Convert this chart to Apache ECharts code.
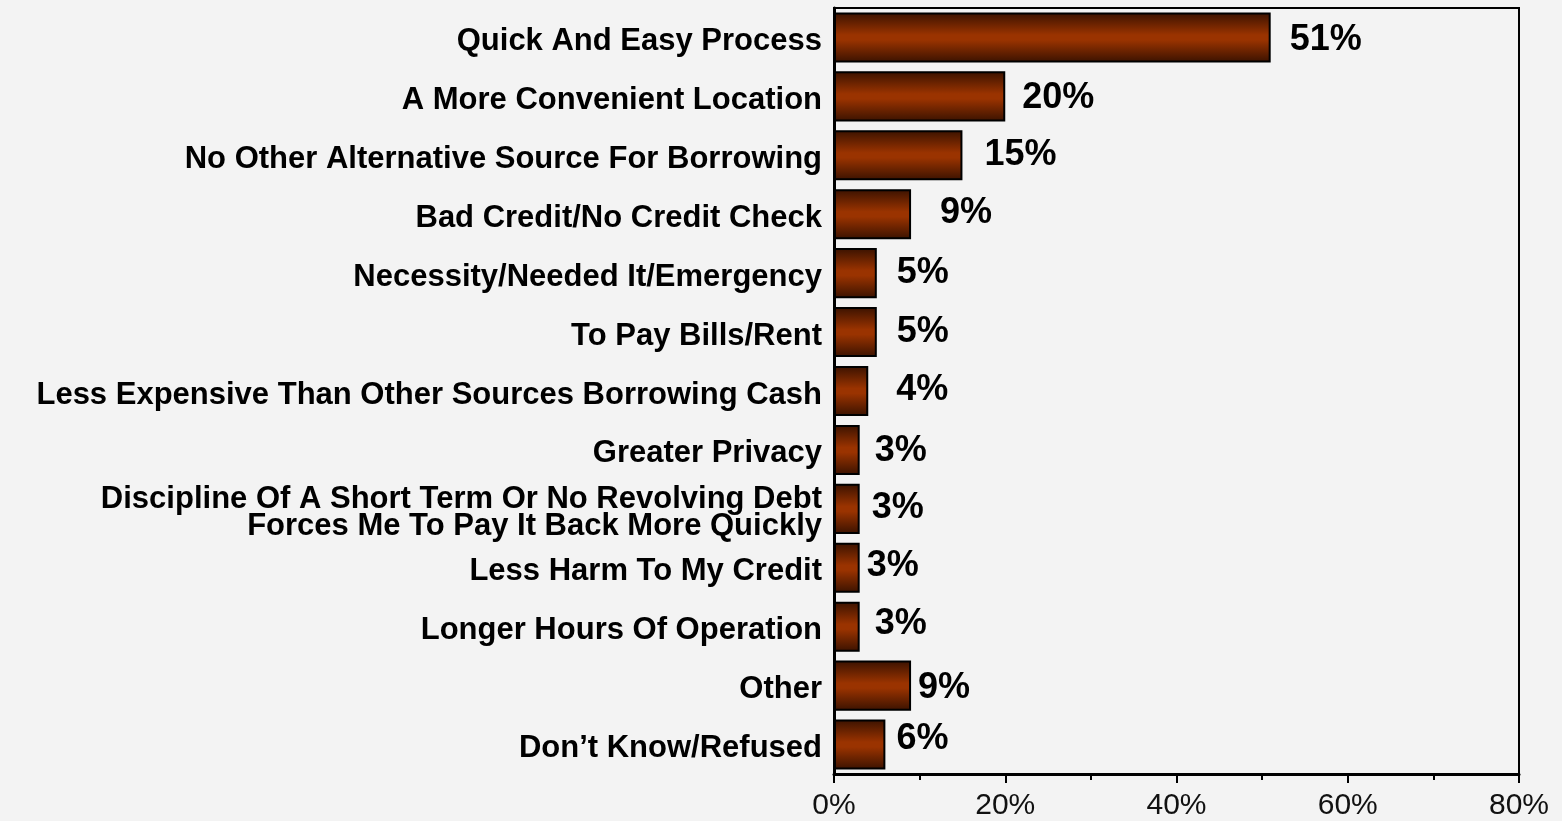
<!DOCTYPE html>
<html>
<head>
<meta charset="utf-8">
<script src="https://cdn.jsdelivr.net/npm/echarts@6/dist/echarts.min.js"></script>
<style>
  html, body { margin: 0; padding: 0; background: #f3f3f3; }
  #chart { width: 1562px; height: 821px; }
</style>
</head>
<body>
<div id="chart"></div>
<script>
// Reasons given for choosing this kind of borrowing (share of respondents, %)
const reasons = [
  'Quick And Easy Process',
  'A More Convenient Location',
  'No Other Alternative Source For Borrowing',
  'Bad Credit/No Credit Check',
  'Necessity/Needed It/Emergency',
  'To Pay Bills/Rent',
  'Less Expensive Than Other Sources Borrowing Cash',
  'Greater Privacy',
  'Discipline Of A Short Term Or No Revolving Debt\nForces Me To Pay It Back More Quickly',
  'Less Harm To My Credit',
  'Longer Hours Of Operation',
  'Other',
  'Don\u2019t Know/Refused'
];
const shares = [51, 20, 15, 9, 5, 5, 4, 3, 3, 3, 3, 9, 6];
const axisTicks = [0, 20, 40, 60, 80];

// Small per-label nudges [dx, dy] for the value callouts
const labelNudge = [
  [19, 3], [17, 2], [22, 0], [29, -1], [20, 0], [20, 0], [28, -1],
  [15, 1], [12, -1], [7, -2], [15, -3], [7, 2], [11, -5]
];

const FONT = "'Liberation Sans', Arial, Helvetica, sans-serif";

const catText = {
  fontFamily: FONT,
  fontWeight: 'bold',
  fontSize: 31,
  lineHeight: 27,
  color: '#000',
  align: 'right'
};

const barFill = new echarts.graphic.LinearGradient(0, 0, 0, 1, [
  { offset: 0, color: '#3a1200' },
  { offset: 0.45, color: '#9a3300' },
  { offset: 0.55, color: '#9a3300' },
  { offset: 1, color: '#3a1200' }
]);

// Category text sits a few pixels below the band centre: a thin empty
// spacer line goes above each label block.
function categoryLabel(v) {
  return '{s|}\n' + v.split('\n').map((line) => '{t|' + line + '}').join('\n');
}

const chart = echarts.init(document.getElementById('chart'), null, { renderer: 'canvas' });

chart.setOption({
  backgroundColor: '#f3f3f3',
  animation: false,
  grid: {
    left: 834, right: 43, top: 8, bottom: 46,
    show: true, borderColor: '#000', borderWidth: 2, backgroundColor: 'transparent'
  },
  xAxis: {
    type: 'value',
    min: axisTicks[0],
    max: axisTicks[axisTicks.length - 1],
    interval: axisTicks[1] - axisTicks[0],
    axisLine: { show: true, lineStyle: { color: '#000', width: 3 } },
    axisTick: { show: true, length: 9, lineStyle: { color: '#000', width: 2 } },
    minorTick: { show: true, splitNumber: 2, length: 6, lineStyle: { color: '#000', width: 2 } },
    splitLine: { show: false },
    axisLabel: {
      formatter: '{value}%',
      fontFamily: FONT,
      fontSize: 30,
      color: '#111',
      margin: 17
    }
  },
  yAxis: {
    type: 'category',
    inverse: true,
    data: reasons,
    axisLine: { show: true, lineStyle: { color: '#000', width: 3 } },
    axisTick: { show: false },
    axisLabel: {
      margin: 12,
      align: 'right',
      formatter: categoryLabel,
      rich: {
        s: { fontSize: 4, lineHeight: 8, align: 'right' },
        t: catText
      }
    }
  },
  series: [{
    type: 'bar',
    barCategoryGap: '15%',
    data: shares.map((v, i) => ({
      value: v,
      label: { offset: labelNudge[i] }
    })),
    itemStyle: {
      color: barFill,
      borderColor: '#000',
      borderWidth: 2
    },
    label: {
      show: true,
      position: 'right',
      distance: 0,
      formatter: '{c}%',
      fontFamily: FONT,
      fontWeight: 'bold',
      fontSize: 36,
      color: '#000'
    }
  }]
});
</script>
</body>
</html>
